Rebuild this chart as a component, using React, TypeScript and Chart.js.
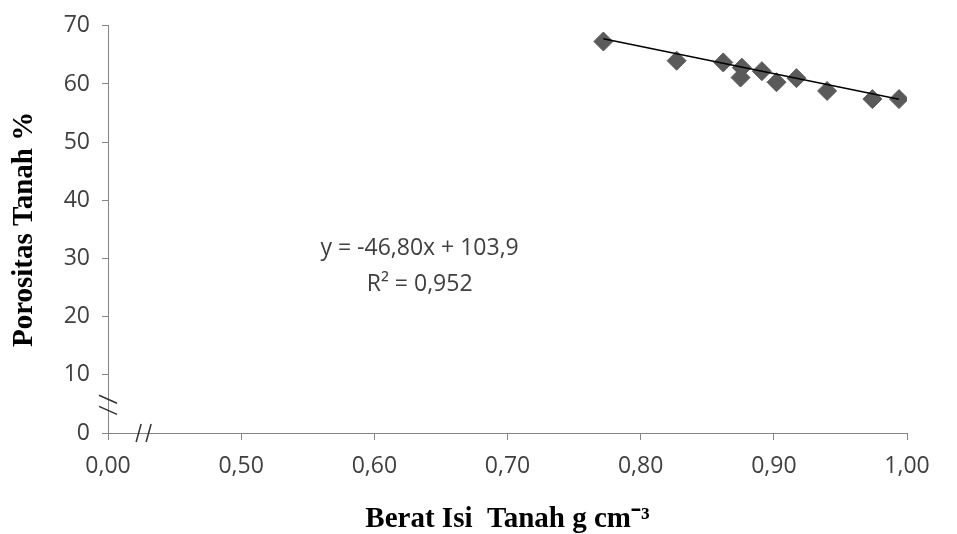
import React, { useEffect, useRef } from "react";
import { Chart, registerables } from "chart.js";

Chart.register(...registerables);

// Bulk density (g cm-3) and soil porosity (%)
const bulkDensity = [0.772, 0.827, 0.862, 0.875, 0.876, 0.891, 0.902, 0.917, 0.94, 0.974, 0.994];
const porosity = [67.3, 64.0, 63.7, 61.1, 62.8, 62.2, 60.3, 61.0, 58.8, 57.4, 57.4];

// Linear trend line from the chart's equation
const slope = -46.8;
const intercept = 103.9;
const equationLabel = "y = -46,80x + 103,9";
const r2Label = "R\u00B2 = 0,952";

// Axis settings (x axis is broken: the first tick stands for 0,00)
const xMin = 0.4;
const xMax = 1.0;
const xStep = 0.1;
const xBreakLabel = "0,00";
const yMin = 0;
const yMax = 70;
const yStep = 10;

const xTitle = "Berat Isi  Tanah g cm\u207B\u00B3";
const yTitle = "Porositas Tanah %";

const tickFont = { family: "'Open Sans', sans-serif", size: 23 };
const titleFont = { family: "'Liberation Serif', 'Times New Roman', serif", size: 29, weight: "bold" as const };

export default function App() {
  const canvasRef = useRef<HTMLCanvasElement | null>(null);

  useEffect(() => {
    document.body.style.margin = "0";
    const canvas = canvasRef.current;
    if (!canvas) return;

    const xFirst = Math.min(...bulkDensity);
    const xLast = Math.max(...bulkDensity);

    const annotationPlugin = {
      id: "annotations",
      afterDatasetsDraw(chart: any) {
        const { ctx } = chart;
        const x = chart.scales.x;
        const y = chart.scales.y;
        ctx.save();
        ctx.fillStyle = "#404040";
        ctx.font = "23px 'Open Sans', sans-serif";
        ctx.textAlign = "center";
        ctx.textBaseline = "middle";
        ctx.fillText(equationLabel, x.getPixelForValue(0.634), y.getPixelForValue(31.8));
        ctx.fillText(r2Label, x.getPixelForValue(0.634), y.getPixelForValue(25.6));

        // axis break marks
        ctx.strokeStyle = "#333333";
        ctx.lineWidth = 1.5;
        const ax = x.getPixelForValue(xMin);
        const ay = y.getPixelForValue(yMin);
        const yb = [y.getPixelForValue(5.8), y.getPixelForValue(3.9)];
        yb.forEach((py: number) => {
          ctx.beginPath();
          ctx.moveTo(ax - 9, py - 4);
          ctx.lineTo(ax + 9, py + 4);
          ctx.stroke();
        });
        const xb = [x.getPixelForValue(0.423), x.getPixelForValue(0.4305)];
        xb.forEach((px: number) => {
          ctx.beginPath();
          ctx.moveTo(px - 2.5, ay + 9);
          ctx.lineTo(px + 2.5, ay - 9);
          ctx.stroke();
        });
        ctx.restore();
      },
    };

    const chart = new Chart(canvas, {
      type: "scatter",
      data: {
        datasets: [
          {
            label: "Trend",
            data: [
              { x: xFirst, y: slope * xFirst + intercept },
              { x: xLast, y: slope * xLast + intercept },
            ],
            showLine: true,
            borderColor: "#000000",
            borderWidth: 1.5,
            pointRadius: 0,
            order: 1,
          },
          {
            label: "Porositas",
            data: bulkDensity.map((v, i) => ({ x: v, y: porosity[i] })),
            pointStyle: "rectRot",
            pointRadius: 9.5,
            backgroundColor: "#5a5a5a",
            borderColor: "#5a5a5a",
            borderWidth: 1,
            order: 2,
          },
        ],
      },
      options: {
        responsive: false,
        animation: false,
        layout: { padding: { left: 0, top: 25, right: 50, bottom: 0 } },
        plugins: {
          legend: { display: false },
          tooltip: { enabled: false },
        },
        scales: {
          x: {
            type: "linear",
            min: xMin,
            max: xMax,
            afterFit: (s: any) => {
              s.height = 101;
            },
            ticks: {
              stepSize: xStep,
              padding: 13,
              color: "#404040",
              font: tickFont,
              maxRotation: 0,
              callback: (v: any) => {
                const n = Number(v);
                if (n < xMin + xStep / 2) return xBreakLabel;
                return n.toFixed(2).replace(".", ",");
              },
            },
            grid: {
              drawOnChartArea: false,
              drawTicks: true,
              tickLength: 7,
              color: "#868686",
            },
            border: { color: "#868686", width: 1 },
            title: {
              display: true,
              text: xTitle,
              color: "#000000",
              font: titleFont,
              padding: { top: 0, bottom: -3 },
            },
          },
          y: {
            type: "linear",
            min: yMin,
            max: yMax,
            afterFit: (s: any) => {
              s.width = 108;
            },
            ticks: {
              stepSize: yStep,
              padding: 12,
              color: "#404040",
              font: tickFont,
            },
            grid: {
              drawOnChartArea: false,
              drawTicks: true,
              tickLength: 6,
              color: "#868686",
            },
            border: { color: "#868686", width: 1 },
            title: {
              display: true,
              text: yTitle,
              color: "#000000",
              font: titleFont,
              padding: { top: 7, bottom: 0 },
            },
          },
        },
      },
      plugins: [annotationPlugin],
    });

    return () => {
      chart.destroy();
    };
  }, []);

  return (
    <div style={{ width: 957, height: 534, background: "#ffffff" }}>
      <canvas ref={canvasRef} width={957} height={534} style={{ display: "block" }} />
    </div>
  );
}
